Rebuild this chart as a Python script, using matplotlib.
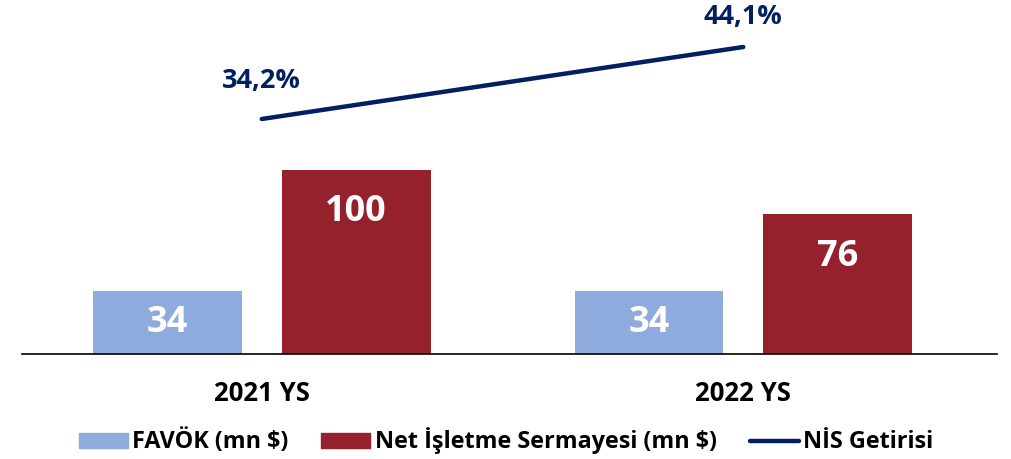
import matplotlib.pyplot as plt
import numpy as np

plt.rcParams['font.family'] = ['Open Sans', 'DejaVu Sans']

categories = ["2021 YS", "2022 YS"]
favok = [34, 34]
nis = [100, 76]
nis_getiri = [34.2, 44.1]
favok_labels = ["34", "34"]
nis_labels = ["100", "76"]
getiri_labels = ["34,2%", "44,1%"]

BLUE = "#8FAADC"
RED = "#94212B"
NAVY = "#002060"

W, H = 1012, 459
fig = plt.figure(figsize=(W / 100, H / 100), dpi=100)
ax = fig.add_axes([22 / W, (H - 354) / H, 975 / W, 354 / H])
ax2 = ax.twinx()

x = np.arange(len(categories))
bw = 0.309
off = 0.196

b1 = ax.bar(x - off, favok, bw, color=BLUE, zorder=2)
b2 = ax.bar(x + off, nis, bw, color=RED, zorder=2)

for rect, lab in zip(b1, favok_labels):
    ax.annotate(lab, (rect.get_x() + rect.get_width() / 2, rect.get_height() / 2),
                xytext=(0, 0), textcoords="offset points",
                ha="center", va="center", color="white", fontsize=26, fontweight="bold")
for rect, lab in zip(b2, nis_labels):
    ax.annotate(lab, (rect.get_x() + rect.get_width() / 2, rect.get_height()),
                xytext=(0, -30.5), textcoords="offset points",
                ha="center", va="center", color="white", fontsize=26, fontweight="bold")

ln, = ax2.plot(x, nis_getiri, color=NAVY, lw=3.2, solid_capstyle="round")
label_dy = [27, 21.5]
for xi, v, lab, dy in zip(x, nis_getiri, getiri_labels, label_dy):
    ax2.annotate(lab, (xi, v), xytext=(0, dy), textcoords="offset points",
                 ha="center", va="center", color=NAVY, fontsize=19.5, fontweight="bold")

ax.set_xlim(-0.498, 1.527)
ax.set_ylim(0, 192.4)
ax2.set_ylim(1.89, 50.56)

for a in (ax, ax2):
    for s in a.spines.values():
        s.set_visible(False)
    a.set_yticks([])
ax.spines["bottom"].set_visible(True)
ax.spines["bottom"].set_linewidth(1.2)
ax.spines["bottom"].set_color("black")
ax.set_xticks(x)
ax.set_xticklabels(categories, fontsize=18.5, fontweight="bold")
ax.tick_params(axis="x", length=0, pad=19)

handles = [plt.Rectangle((0, 0), 1, 1, color=BLUE),
           plt.Rectangle((0, 0), 1, 1, color=RED), ln]
fig.legend(handles, ["FAVÖK (mn $)", "Net İşletme Sermayesi (mn $)", "NİS Getirisi"],
           loc="center", bbox_to_anchor=(0.5, (H - 441) / H), ncol=3, frameon=False,
           prop={"size": 16.8, "weight": "bold"}, handlelength=2.1, handleheight=0.6,
           handletextpad=0.2, columnspacing=1.4)

fig.savefig("out.png", dpi=100)
